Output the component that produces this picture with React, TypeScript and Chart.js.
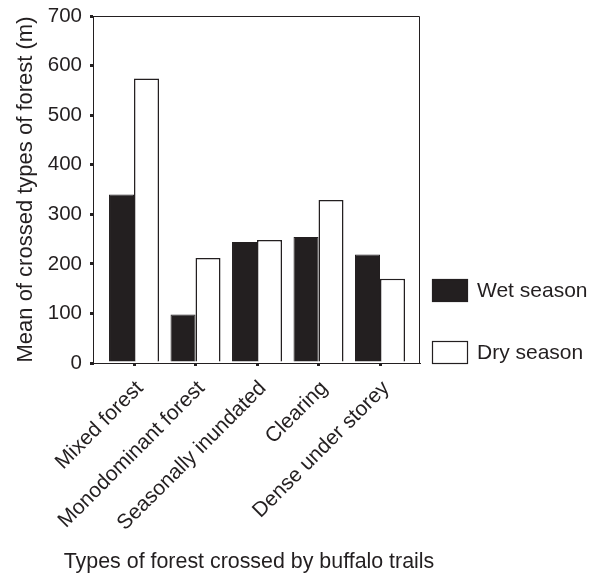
import React, { useEffect, useRef } from "react";
import { Chart, registerables } from "chart.js";

Chart.register(...registerables);

const categories = ["Mixed forest", "Monodominant forest", "Seasonally inundated", "Clearing", "Dense under storey"];
const wetSeason = [340, 98, 244, 254, 219];
const drySeason = [574, 212, 248, 329, 170];
const yTicks = [0, 100, 200, 300, 400, 500, 600, 700];
const xTitle = "Types of forest crossed by buffalo trails";
const yTitle = "Mean of crossed types of forest (m)";

const FONT = "'Liberation Sans', Arial, Helvetica, sans-serif";
const INK = "#231f20";

const frame = {
  id: "frame",
  afterDatasetsDraw(chart: any) {
    const { ctx, chartArea } = chart;
    ctx.save();
    ctx.strokeStyle = INK;
    ctx.lineWidth = 1;
    ctx.beginPath();
    ctx.moveTo(chartArea.left, chartArea.top + 0.5);
    ctx.lineTo(chartArea.right + 0.5, chartArea.top + 0.5);
    ctx.lineTo(chartArea.right + 0.5, chartArea.bottom);
    ctx.stroke();
    ctx.restore();
  },
};

const sideLegendAndTitle = {
  id: "sideLegendAndTitle",
  afterDraw(chart: any) {
    const { ctx, chartArea } = chart;
    const ds = chart.data.datasets;
    const boxW = 36;
    const boxH = 23;
    const left = chartArea.right + 13;
    const tops = [chartArea.bottom - 84, chartArea.bottom - 22];
    ctx.save();
    ds.forEach((d: any, i: number) => {
      const top = tops[i];
      ctx.fillStyle = d.backgroundColor;
      ctx.fillRect(left, top, boxW, boxH);
      ctx.strokeStyle = d.borderColor;
      ctx.lineWidth = 1.2;
      ctx.strokeRect(left + 0.5, top + 0.5, boxW - 1, boxH - 1);
      ctx.fillStyle = INK;
      ctx.font = `21px ${FONT}`;
      ctx.textAlign = "left";
      ctx.textBaseline = "middle";
      ctx.fillText(d.label, left + boxW + 9, top + boxH / 2 + 1);
    });
    // x-axis title (drawn here so it is not squeezed to the plot width)
    ctx.font = `21.4px ${FONT}`;
    ctx.textAlign = "center";
    ctx.textBaseline = "alphabetic";
    ctx.fillStyle = INK;
    ctx.fillText(xTitle, chartArea.left + 156, chartArea.bottom + 205);
    ctx.restore();
  },
};

export default function App() {
  const ref = useRef<HTMLCanvasElement | null>(null);
  useEffect(() => {
    const chart = new Chart(ref.current!, {
      type: "bar",
      data: {
        datasets: [
          {
            label: "Wet season",
            data: wetSeason.map((v, i) => ({ x: i, y: v })),
            backgroundColor: INK,
            borderColor: INK,
            borderWidth: 1,
            categoryPercentage: 0.813,
            barPercentage: 1,
          },
          {
            label: "Dry season",
            data: drySeason.map((v, i) => ({ x: i, y: v })),
            backgroundColor: "#ffffff",
            borderColor: INK,
            borderWidth: 1.5,
            categoryPercentage: 0.813,
            barPercentage: 1,
          },
        ],
      },
      options: {
        animation: false,
        responsive: true,
        maintainAspectRatio: false,
        layout: { padding: { top: 16, right: 178, bottom: 0, left: 0 } },
        plugins: {
          tooltip: { enabled: false },
          legend: { display: false },
        },
        scales: {
          x: {
            type: "linear",
            offset: false,
            min: -0.667,
            max: 4.634,
            afterBuildTicks: (axis: any) => {
              axis.ticks = categories.map((_, i) => ({ value: i }));
            },
            afterFit: (axis: any) => {
              axis.height = 211;
            },
            ticks: {
              autoSkip: false,
              minRotation: 45,
              maxRotation: 45,
              color: INK,
              font: { family: FONT, size: 21 },
              padding: 10,
              labelOffset: 6,
              callback: (v: any) => categories[v as number] ?? "",
            },
            grid: { offset: false, drawOnChartArea: false, drawTicks: true, tickLength: 3, lineWidth: 3, color: INK },
            border: { display: true, color: INK, width: 1 },
            title: { display: false },
          },
          y: {
            min: 0,
            max: 700,
            afterBuildTicks: (axis: any) => {
              axis.ticks = yTicks.map((v) => ({ value: v }));
            },
            afterFit: (axis: any) => {
              axis.width = 93;
              axis.paddingTop = 12;
              axis.paddingBottom = 12;
            },
            ticks: {
              color: INK,
              font: { family: FONT, size: 20.5 },
              padding: 8,
            },
            grid: { drawOnChartArea: false, drawTicks: true, tickLength: 3, lineWidth: 3, color: INK },
            border: { display: true, color: INK, width: 1 },
            title: {
              display: true,
              text: yTitle,
              color: INK,
              font: { family: FONT, size: 22 },
              padding: { top: 13, bottom: 0 },
            },
          },
        },
      },
      plugins: [frame, sideLegendAndTitle],
    });
    return () => chart.destroy();
  }, []);
  return (
    <div style={{ position: "fixed", left: 0, top: 0, width: 597, height: 574, background: "#fff" }}>
      <canvas ref={ref} />
    </div>
  );
}
